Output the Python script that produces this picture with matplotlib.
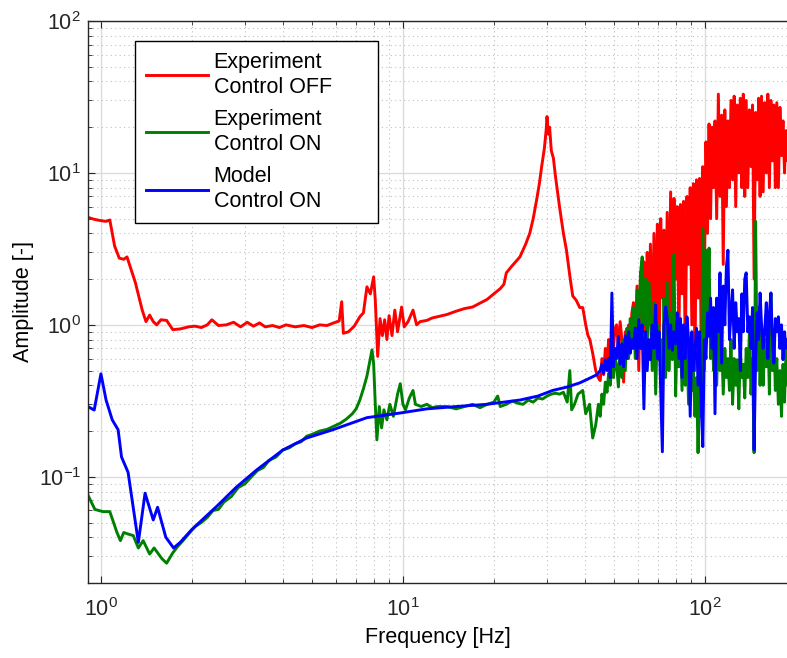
import matplotlib
matplotlib.use("Agg")
import matplotlib.pyplot as plt
import numpy as np
from matplotlib.ticker import LogLocator, NullFormatter

# ---- data (frequency [Hz], amplitude [-]) ----
red_low = [(0.905, 5.1), (0.95, 4.95), (1.0, 4.85), (1.04, 4.8), (1.07, 4.9), (1.11, 3.3),
           (1.15, 2.75), (1.19, 2.7), (1.22, 2.8), (1.3, 1.9), (1.37, 1.25), (1.41, 1.05),
           (1.45, 1.16), (1.49, 1.05), (1.53, 1.0), (1.58, 1.08), (1.65, 1.07), (1.73, 0.93),
           (1.83, 0.94), (1.95, 0.97), (2.05, 0.98), (2.15, 0.96), (2.25, 1.0), (2.33, 1.08),
           (2.45, 0.99), (2.6, 1.0), (2.75, 1.04), (2.9, 0.97), (3.05, 1.04), (3.2, 0.98),
           (3.35, 1.03), (3.5, 0.97), (3.7, 0.99), (3.9, 0.96), (4.1, 1.0), (4.4, 0.97),
           (4.7, 0.99), (5.0, 0.96), (5.3, 1.0), (5.6, 0.99), (5.9, 1.03), (6.15, 1.06),
           (6.27, 1.42), (6.35, 0.88), (6.6, 0.9), (6.9, 0.98), (7.2, 1.13), (7.4, 1.2),
           (7.6, 1.78), (7.8, 1.6), (8.0, 2.07), (8.1, 1.46), (8.25, 0.62), (8.4, 1.1),
           (8.55, 0.85), (8.7, 1.08), (8.85, 0.8), (9.0, 1.15), (9.2, 0.85), (9.4, 1.25),
           (9.6, 0.9), (9.9, 1.31), (10.1, 0.97), (10.4, 1.05), (10.8, 1.25), (11.1, 1.0),
           (11.4, 1.05), (12.0, 1.07), (12.5, 1.11), (13.0, 1.13), (14.0, 1.17), (15.0, 1.23),
           (16.0, 1.28), (17.0, 1.31), (18.0, 1.39), (19.0, 1.47), (20.0, 1.6), (21.0, 1.73),
           (21.6, 1.85), (22.0, 2.2), (23.0, 2.45), (24.4, 2.8), (25.5, 3.4), (26.3, 4.0),
           (27.0, 5.0), (27.7, 6.6), (28.3, 8.5), (28.8, 11.0), (29.4, 14.5), (29.8, 19.0),
           (30.0, 23.5), (30.3, 18.0), (30.6, 20.0), (31.0, 14.0), (31.5, 12.5), (32.0, 9.5),
           (33.0, 6.0), (34.0, 4.0), (34.8, 3.1), (35.7, 2.1), (36.5, 1.55), (37.5, 1.45),
           (38.5, 1.3), (39.4, 1.3), (40.3, 1.0), (41.0, 0.85), (41.6, 0.8), (42.5, 0.65),
           (43.5, 0.5), (44.3, 0.45)]

green_low = [(0.905, 0.076), (0.955, 0.061), (1.015, 0.059), (1.07, 0.059), (1.13, 0.043),
             (1.16, 0.038), (1.19, 0.043), (1.23, 0.042), (1.28, 0.041), (1.33, 0.034),
             (1.38, 0.038), (1.45, 0.031), (1.5, 0.034), (1.59, 0.029), (1.65, 0.027),
             (1.73, 0.0316), (1.8, 0.035), (1.87, 0.038), (1.95, 0.042), (2.05, 0.047),
             (2.15, 0.05), (2.25, 0.054), (2.35, 0.06), (2.45, 0.061), (2.55, 0.068),
             (2.7, 0.074), (2.85, 0.085), (3.0, 0.09), (3.15, 0.1), (3.3, 0.11), (3.45, 0.115),
             (3.6, 0.128), (3.8, 0.135), (4.0, 0.15), (4.2, 0.155), (4.4, 0.165), (4.6, 0.17),
             (4.8, 0.185), (5.0, 0.19), (5.3, 0.2), (5.6, 0.205), (5.9, 0.215), (6.2, 0.225),
             (6.5, 0.24), (6.8, 0.26), (7.0, 0.28), (7.2, 0.32), (7.4, 0.38), (7.6, 0.46),
             (7.8, 0.6), (7.9, 0.685), (8.0, 0.55), (8.1, 0.3), (8.2, 0.175), (8.35, 0.29),
             (8.5, 0.21), (8.65, 0.276), (8.85, 0.237), (9.05, 0.3), (9.3, 0.25), (9.6, 0.35),
             (9.8, 0.41), (10.0, 0.3), (10.2, 0.276), (10.5, 0.33), (10.8, 0.37), (11.0, 0.3),
             (11.5, 0.29), (12.0, 0.3), (12.5, 0.285), (13.0, 0.29), (14.0, 0.29), (15.0, 0.28),
             (16.0, 0.29), (17.0, 0.3), (18.0, 0.285), (19.0, 0.3), (20.0, 0.31), (20.6, 0.34),
             (21.0, 0.29), (22.0, 0.3), (23.0, 0.315), (24.0, 0.305), (25.0, 0.3), (26.0, 0.32),
             (27.0, 0.31), (28.0, 0.33), (29.0, 0.325), (30.0, 0.34), (31.0, 0.35),
             (32.0, 0.355), (33.0, 0.35), (34.0, 0.36), (35.0, 0.31), (35.7, 0.5),
             (36.2, 0.276), (37.0, 0.3), (38.0, 0.35), (39.4, 0.37), (40.3, 0.26), (41.5, 0.3),
             (42.5, 0.18), (43.5, 0.22), (44.4, 0.3)]

blue_low = [(0.905, 0.29), (0.95, 0.275), (1.0, 0.476), (1.04, 0.32), (1.09, 0.237),
            (1.14, 0.204), (1.17, 0.135), (1.23, 0.107), (1.33, 0.037), (1.4, 0.078),
            (1.49, 0.052), (1.54, 0.063), (1.64, 0.04), (1.74, 0.034), (1.83, 0.037),
            (2.0, 0.045), (2.42, 0.064), (2.8, 0.085), (3.28, 0.111), (4.0, 0.15), (4.8, 0.18),
            (5.86, 0.204), (7.6, 0.245), (9.8, 0.263), (12.0, 0.28), (15.0, 0.29), (19.0, 0.3),
            (24.4, 0.32), (28.0, 0.34), (31.3, 0.37), (35.0, 0.39), (38.5, 0.415), (41.0, 0.44),
            (43.9, 0.47)]

# shared frequency grid for the noisy high-frequency part
f_hi = [45.0, 45.6, 46.2, 46.8, 47.4, 48.0, 48.6, 49.2, 49.8, 50.4,
        51.0, 51.7, 52.4, 53.1, 53.8, 54.5, 55.2, 55.9, 56.6, 57.3,
        58.0, 58.8, 59.6, 60.4, 61.2, 62.0, 62.8, 63.6, 64.4, 65.2,
        66.0, 66.9, 67.8, 68.7, 69.6, 70.5, 71.4, 72.3, 73.2, 74.1,
        75.0, 76.0, 77.0, 78.0, 79.0, 80.0, 81.0, 82.0, 83.0, 84.0,
        85.0, 86.1, 87.2, 88.3, 89.4, 90.5, 91.6, 92.7, 93.8, 94.9,
        96.0, 97.2, 98.4, 99.6, 100.8, 102.0, 103.2, 104.4, 105.6, 106.8,
        108.0, 109.4, 110.8, 112.2, 113.6, 115.0, 116.4, 117.8, 119.2, 120.6,
        122.0, 123.5, 125.0, 126.5, 128.0, 129.5, 131.0, 132.5, 134.0, 135.5,
        137.0, 138.7, 140.4, 142.1, 143.8, 145.5, 147.2, 148.9, 150.6, 152.3,
        154.0, 155.9, 157.8, 159.7, 161.6, 163.5, 165.4, 167.3, 169.2, 171.1,
        173.0, 175.1, 177.2, 179.3, 181.4, 183.5, 185.6, 187.7, 189.8, 192.0]

red_hi = [0.43, 0.6, 0.47, 0.7, 0.55, 0.8, 0.6, 0.85, 0.7, 0.95,
          1.0, 0.7, 1.05, 0.8, 0.42, 0.9, 0.6, 1.0, 0.75, 1.2,
          1.4, 0.7, 1.8, 0.5, 2.2, 0.9, 2.6, 0.6, 3.0, 1.0,
          3.4, 0.8, 4.0, 1.2, 4.6, 0.6, 5.0, 1.5, 4.2, 0.9,
          5.5, 1.0, 7.5, 0.7, 6.8, 2.0, 6.0, 0.8, 6.2, 1.6,
          6.5, 0.6, 7.0, 2.5, 8.0, 1.0, 8.5, 0.5, 9.0, 1.5,
          9.2, 0.7, 11.0, 2.0, 16.0, 4.0, 21.0, 5.0, 20.0, 8.0,
          22.0, 5.0, 33.0, 7.0, 24.0, 2.5, 26.0, 6.0, 22.0, 8.0,
          30.0, 9.0, 32.0, 6.0, 28.0, 10.0, 31.0, 8.0, 33.0, 7.0,
          30.0, 8.0, 26.0, 11.0, 28.0, 2.0, 25.0, 9.0, 31.0, 7.0,
          32.0, 7.5, 29.0, 10.0, 33.0, 8.0, 30.0, 12.0, 28.0, 8.0,
          29.0, 8.0, 27.0, 13.0, 22.0, 10.0, 19.0, 12.0, 18.0, 14.0]

green_hi = [0.25, 0.35, 0.3, 0.42, 0.36, 0.48, 0.4, 0.55, 0.45, 0.6,
            0.55, 0.39, 0.7, 0.45, 0.8, 0.5, 0.95, 0.6, 1.1, 0.7,
            1.3, 0.6, 1.7, 0.8, 2.2, 2.8, 1.0, 2.0, 0.7, 1.9,
            1.2, 0.5, 1.4, 0.35, 1.0, 0.59, 0.8, 0.3, 1.5, 0.45,
            1.9, 0.5, 1.2, 0.59, 2.9, 0.34, 1.0, 0.53, 0.8, 0.37,
            0.9, 0.4, 0.7, 0.3, 0.6, 0.37, 0.5, 0.25, 0.45, 0.144,
            0.41, 0.25, 4.3, 0.5, 3.1, 0.9, 3.2, 0.6, 1.2, 0.5,
            0.9, 0.4, 1.13, 0.5, 0.8, 0.35, 0.7, 0.45, 0.6, 0.37,
            0.8, 0.3, 0.6, 0.4, 0.59, 0.28, 0.7, 0.45, 0.55, 0.33,
            0.7, 0.45, 0.9, 0.35, 0.6, 0.144, 4.8, 0.5, 1.3, 0.4,
            0.97, 0.4, 0.8, 0.53, 1.0, 0.35, 1.62, 0.5, 0.9, 0.37,
            0.6, 0.3, 0.5, 0.25, 0.55, 0.31, 0.68, 0.4, 0.6, 0.5]

blue_hi = [0.5, 0.55, 0.48, 0.59, 0.5, 0.6, 0.45, 1.62, 0.53, 0.7,
           0.6, 0.84, 0.55, 0.75, 0.53, 0.85, 0.6, 0.9, 0.65, 0.8,
           0.7, 0.95, 0.6, 1.08, 0.7, 1.0, 0.28, 0.9, 0.5, 0.8,
           0.59, 1.0, 0.7, 1.35, 0.6, 0.9, 0.37, 0.146, 1.0, 1.31,
           1.1, 0.7, 1.0, 0.68, 0.9, 0.75, 1.2, 0.6, 1.1, 0.45,
           1.0, 0.6, 1.13, 0.8, 0.25, 0.9, 0.5, 0.68, 0.95, 0.4,
           0.9, 0.3, 0.158, 0.8, 0.6, 1.2, 0.84, 1.5, 0.7, 1.3,
           0.26, 1.5, 0.9, 2.2, 0.56, 1.8, 1.0, 2.4, 3.1, 0.8,
           1.2, 1.7, 0.7, 1.4, 0.9, 1.1, 0.5, 1.6, 0.9, 2.0,
           2.2, 0.9, 1.13, 0.7, 1.3, 0.15, 0.6, 1.2, 0.8, 1.62,
           1.0, 0.7, 0.93, 1.4, 0.6, 1.2, 1.62, 0.8, 0.56, 1.1,
           0.9, 1.13, 0.7, 1.0, 0.59, 0.9, 0.7, 0.8, 0.6, 0.7]

labels = ["Experiment\nControl OFF", "Experiment\nControl ON", "Model\nControl ON"]
colors = ["#ff0000", "#008000", "#0000ff"]


def join(low, hi):
    f = [p[0] for p in low] + f_hi
    a = [p[1] for p in low] + hi
    return f, a


plt.rcParams["font.family"] = ["Liberation Sans", "DejaVu Sans"]
plt.rcParams["font.size"] = 15.5

fig = plt.figure(figsize=(7.87, 6.58), dpi=100)
ax = fig.add_axes([0.1118, 0.114, 0.8882, 0.8541])

for (low, hi), lab, col in zip([(red_low, red_hi), (green_low, green_hi), (blue_low, blue_hi)],
                               labels, colors):
    f, a = join(low, hi)
    ax.plot(f, a, color=col, lw=2.1, label=lab)

ax.set_xscale("log")
ax.set_yscale("log")
ax.set_xlim(0.906, 187)
ax.set_ylim(0.02, 100)

for axis in (ax.xaxis, ax.yaxis):
    axis.set_major_locator(LogLocator(base=10, numticks=10))
    axis.set_minor_locator(LogLocator(base=10, subs=np.arange(2, 10), numticks=20))
    axis.set_minor_formatter(NullFormatter())

ax.grid(True, which="major", color="#dcdcdc", lw=1.0, ls="-")
ax.grid(True, which="minor", color="#c0c0c0", lw=0.8, ls=(0, (1, 3)))
ax.set_axisbelow(True)

for side in ("left", "bottom", "top"):
    ax.spines[side].set_color("#262626")
    ax.spines[side].set_linewidth(1.0)
ax.spines["right"].set_visible(False)

ax.tick_params(which="both", direction="in", top=True, right=False, colors="#262626")
ax.tick_params(which="major", length=5, width=0.8)
ax.tick_params(which="minor", length=3, width=0.6)
ax.tick_params(axis="x", which="major", pad=11)
ax.tick_params(axis="y", which="major", pad=5)

ax.set_xlabel("Frequency [Hz]", labelpad=4)
ax.set_ylabel("Amplitude [-]", labelpad=3)

leg = ax.legend(loc="upper left", bbox_to_anchor=(0.0672, 0.9644), borderaxespad=0,
                fancybox=False, framealpha=1, edgecolor="black", handlelength=2.9,
                handletextpad=0.25, borderpad=0.5, labelspacing=0.5)
leg.get_frame().set_linewidth(1.0)
for t in leg.get_texts():
    t.set_linespacing(1.27)

# MATLAB's legend box is wider than its text: pad the longest line with
# invisible no-break spaces so the frame reaches the reference width
legend_pad = "\u00a0" * 6
leg.get_texts()[0].set_text(labels[0] + legend_pad)

fig.savefig("out.png", dpi=100)
